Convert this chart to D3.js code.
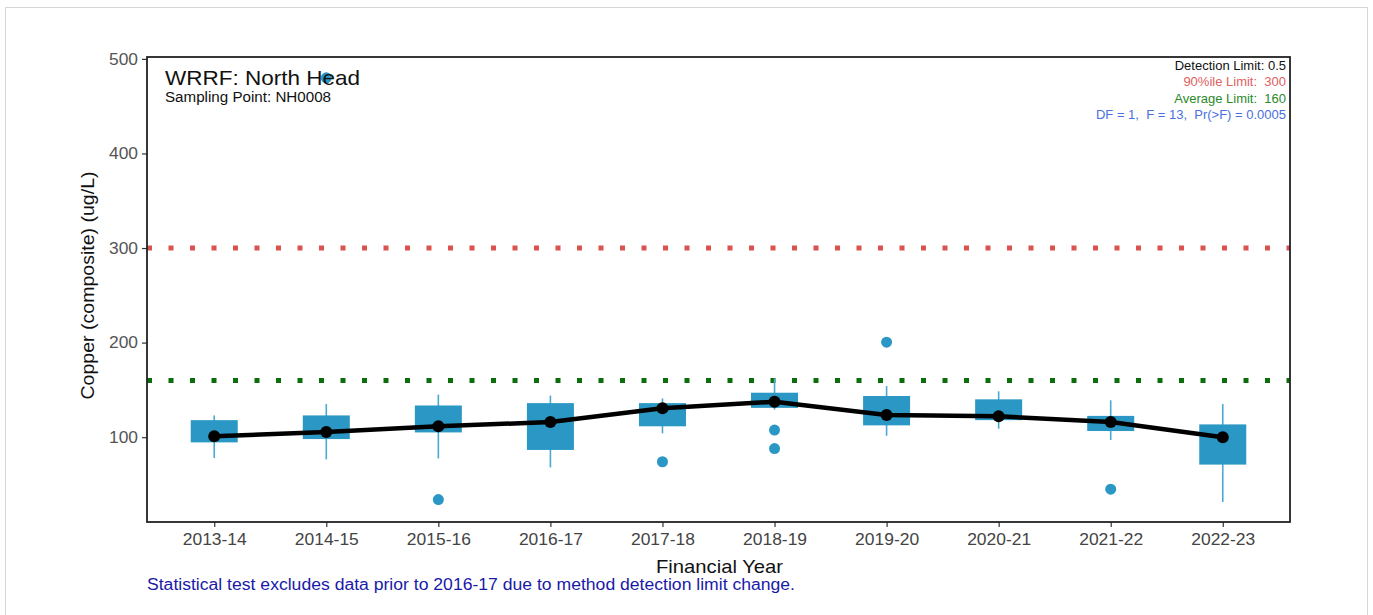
<!DOCTYPE html>
<html>
<head>
<meta charset="utf-8">
<script src="https://cdn.jsdelivr.net/npm/d3@7"></script>
<style>
  html, body { margin: 0; padding: 0; background: #fff; }
  svg { display: block; font-family: "Liberation Sans", Arial, sans-serif; }
  text { white-space: pre; }
</style>
</head>
<body>
<svg id="chart" width="1373" height="615"></svg>
<script>
// ---- Data ----
const years = ["2013-14","2014-15","2015-16","2016-17","2017-18","2018-19","2019-20","2020-21","2021-22","2022-23"];
const whiskerLow  = [78, 76.5, 77.5, 68, 104, 129, 101.5, 109, 97, 31.5];
const boxLow      = [94.5, 98, 105, 86.5, 111.5, 131, 112.5, 118, 106.5, 71];
const boxHigh     = [118, 123, 133.5, 136, 136, 147, 143.5, 140, 122.5, 113.5];
const whiskerHigh = [123, 135, 145, 144, 141, 162, 154, 148.5, 139, 135];
const meanValues  = [101, 105.5, 111.5, 116, 130.5, 137.5, 123.5, 122, 116, 100];
const outlierYears  = ["2014-15","2015-16","2017-18","2018-19","2018-19","2019-20","2021-22"];
const outlierValues = [480, 34, 74, 107.5, 88, 200.5, 45];
const yTicks = [100, 200, 300, 400, 500];
const limit90 = 300;
const limitAvg = 160;

// ---- Layout ----
const svg = d3.select("#chart");
const L = 147, R = 1290, T = 57, B = 522;

// page frame
svg.append("rect").attr("x", 5.5).attr("y", 7.5).attr("width", 1362).attr("height", 620)
  .attr("fill", "none").attr("stroke", "#d6d6d6").attr("stroke-width", 1);

const x = d3.scalePoint().domain(years).range([L, R]).padding(0.6);
const y = d3.scaleLinear().domain([10.3, 502]).range([B, T]);
const boxW = 47;

const blue = "#2a97c4";
const whiskerBlue = "#4aa9d2";

// axes
const yAxis = d3.axisLeft(y).tickValues(yTicks).tickSize(5).tickPadding(4);
const gy = svg.append("g").attr("transform", `translate(${L},0)`).call(yAxis);
gy.select(".domain").remove();
gy.selectAll(".tick line").attr("stroke", "#333").attr("stroke-width", 1.2);
gy.selectAll(".tick text").attr("fill", "#555").style("font-size", "16.5px")
  .attr("textLength", 29).attr("lengthAdjust", "spacingAndGlyphs");

const xAxis = d3.axisBottom(x).tickSize(5).tickPadding(7);
const gx = svg.append("g").attr("transform", `translate(0,${B})`).call(xAxis);
gx.select(".domain").remove();
gx.selectAll(".tick line").attr("stroke", "#333").attr("stroke-width", 1.2);
gx.selectAll(".tick text").attr("fill", "#444").style("font-size", "16px")
  .attr("textLength", 64).attr("lengthAdjust", "spacingAndGlyphs");

// limit lines
svg.append("line").attr("x1", L).attr("x2", R).attr("y1", y(limit90)).attr("y2", y(limit90))
  .attr("stroke", "#d9534f").attr("stroke-width", 5).attr("stroke-dasharray", "5 16.5");
svg.append("line").attr("x1", L).attr("x2", R).attr("y1", y(limitAvg)).attr("y2", y(limitAvg))
  .attr("stroke", "#0a6e0a").attr("stroke-width", 5).attr("stroke-dasharray", "5 16.5");

// whiskers
svg.append("g").selectAll("line").data(years).join("line")
  .attr("x1", d => x(d)).attr("x2", d => x(d))
  .attr("y1", (d, i) => y(whiskerLow[i])).attr("y2", (d, i) => y(whiskerHigh[i]))
  .attr("stroke", whiskerBlue).attr("stroke-width", 1.6);

// boxes
svg.append("g").selectAll("rect").data(years).join("rect")
  .attr("x", d => x(d) - boxW / 2).attr("width", boxW)
  .attr("y", (d, i) => y(boxHigh[i])).attr("height", (d, i) => y(boxLow[i]) - y(boxHigh[i]))
  .attr("fill", blue);

// outliers
svg.append("g").selectAll("circle").data(outlierValues).join("circle")
  .attr("cx", (d, i) => x(outlierYears[i])).attr("cy", d => y(d)).attr("r", 5.5)
  .attr("fill", blue);

// mean line
const line = d3.line().x((d, i) => x(years[i])).y(d => y(d));
svg.append("path").datum(meanValues).attr("d", line)
  .attr("fill", "none").attr("stroke", "#000").attr("stroke-width", 4.5).attr("stroke-linejoin", "round");
svg.append("g").selectAll("circle").data(meanValues).join("circle")
  .attr("cx", (d, i) => x(years[i])).attr("cy", d => y(d)).attr("r", 6).attr("fill", "#000");

// panel border
svg.append("rect").attr("x", L).attr("y", T).attr("width", R - L).attr("height", B - T)
  .attr("fill", "none").attr("stroke", "#222").attr("stroke-width", 1.8);

// titles
svg.append("text").attr("x", 165).attr("y", 85).text("WRRF: North Head")
  .style("font-size", "21px").attr("fill", "#111")
  .attr("textLength", 195).attr("lengthAdjust", "spacingAndGlyphs");
svg.append("text").attr("x", 165).attr("y", 102).text("Sampling Point: NH0008")
  .style("font-size", "14px").attr("fill", "#111")
  .attr("textLength", 166).attr("lengthAdjust", "spacingAndGlyphs");

const notes = [
  {t: "Detection Limit: 0.5", c: "#111", y: 70},
  {t: "90%ile Limit:  300", c: "#e06060", y: 86},
  {t: "Average Limit:  160", c: "#2a8a2a", y: 103},
  {t: "DF = 1,  F = 13,  Pr(>F) = 0.0005", c: "#4a6fe0", y: 119}
];
svg.append("g").selectAll("text").data(notes).join("text")
  .attr("x", 1286).attr("y", d => d.y).attr("text-anchor", "end")
  .attr("fill", d => d.c).style("font-size", "13px").text(d => d.t);

// axis titles
svg.append("text").attr("transform", `translate(94,${(T + B) / 2 - 4}) rotate(-90)`)
  .attr("text-anchor", "middle").style("font-size", "18.5px").attr("fill", "#111")
  .attr("textLength", 228).attr("lengthAdjust", "spacingAndGlyphs")
  .text("Copper (composite) (ug/L)");
svg.append("text").attr("x", (L + R) / 2 + 1).attr("y", 573).attr("text-anchor", "middle")
  .style("font-size", "18.5px").attr("fill", "#111")
  .attr("textLength", 127).attr("lengthAdjust", "spacingAndGlyphs").text("Financial Year");
svg.append("text").attr("x", 147).attr("y", 590)
  .style("font-size", "16px").attr("fill", "#1a1aa8")
  .attr("textLength", 648).attr("lengthAdjust", "spacingAndGlyphs")
  .text("Statistical test excludes data prior to 2016-17 due to method detection limit change.");
</script>
</body>
</html>
